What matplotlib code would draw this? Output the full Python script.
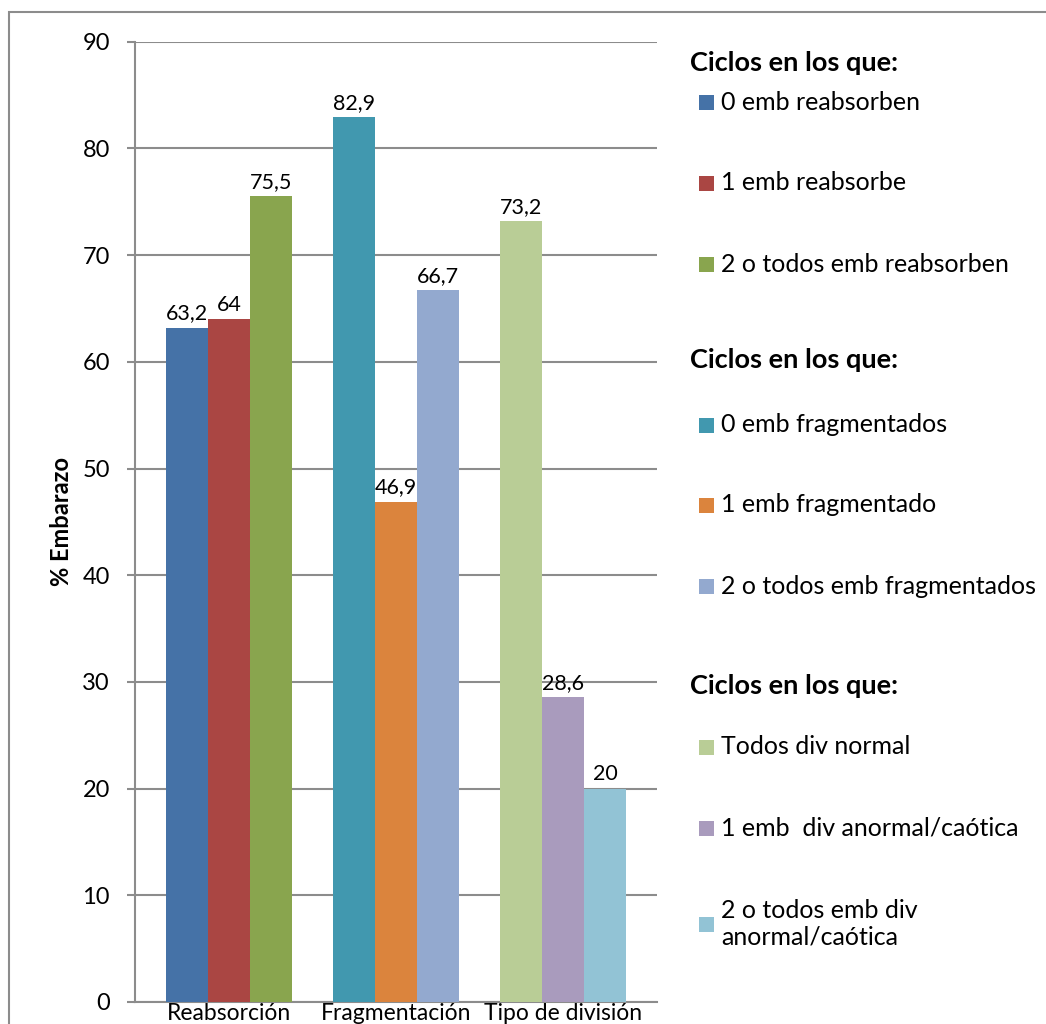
import matplotlib
matplotlib.use("Agg")
import matplotlib.pyplot as plt
from matplotlib.patches import Rectangle

plt.rcParams['font.family'] = ['Lato', 'DejaVu Sans']

# Categories on the x axis
categories = ["Reabsorción", "Fragmentación", "Tipo de división"]

# Three series per category (% embarazo)
reabsorcion_labels = ["0 emb reabsorben", "1 emb reabsorbe", "2 o todos emb reabsorben"]
reabsorcion_values = [63.2, 64, 75.5]

fragmentacion_labels = ["0 emb fragmentados", "1 emb fragmentado", "2 o todos emb fragmentados"]
fragmentacion_values = [82.9, 46.9, 66.7]

division_labels = ["Todos div normal", "1 emb  div anormal/caótica", "2 o todos emb div\nanormal/caótica"]
division_values = [73.2, 28.6, 20]

legend_title = "Ciclos en los que:"
y_ticks = [0, 10, 20, 30, 40, 50, 60, 70, 80, 90]

colors = [
    ["#4572A7", "#AA4643", "#89A54E"],
    ["#4198AF", "#DB843D", "#93A9CF"],
    ["#B9CD96", "#A99BBD", "#92C3D5"],
]

groups = [
    (reabsorcion_labels, reabsorcion_values),
    (fragmentacion_labels, fragmentacion_values),
    (division_labels, division_values),
]

W, H = 1046, 1024
fig = plt.figure(figsize=(W / 100, H / 100), dpi=100)
fig.patch.set_facecolor("white")

# outer chart frame
fig.add_artist(Rectangle((9 / W, -0.1), 1.2, (H - 11.7) / H + 0.1,
                         transform=fig.transFigure, fill=False,
                         edgecolor="#8c8c8c", linewidth=1.5))

ax_left, ax_right, ax_top, ax_bottom = 135, 657, 41.7, 1002
ax = fig.add_axes([ax_left / W, (H - ax_bottom) / H,
                   (ax_right - ax_left) / W, (ax_bottom - ax_top) / H])

grid_color = "#8c8c8c"
bar_w = 0.2515
for gi, (labels, values) in enumerate(groups):
    for si, (lab, val) in enumerate(zip(labels, values)):
        x = gi + (si - 1) * bar_w
        ax.bar(x, val, width=bar_w, color=colors[gi][si], zorder=3, linewidth=0)
        txt = ("%g" % val).replace(".", ",")
        ax.annotate(txt, (x, val), xytext=(0, 3), textcoords="offset points",
                    ha="center", va="bottom", fontsize=15.5, color="#000000")

ax.set_xlim(-0.563, 2.563)
ax.set_ylim(0, 90)
ax.set_yticks(y_ticks)
ax.set_yticklabels([str(t) for t in y_ticks], fontsize=17)
ax.set_xticks(range(len(categories)))
ax.set_xticklabels(categories, fontsize=16.5)
ax.tick_params(axis="x", length=0, pad=1)
ax.tick_params(axis="y", length=6, width=1.5, color=grid_color, pad=12)
ax.yaxis.grid(True, color=grid_color, linewidth=1.5, zorder=0)
for s in ["top", "right"]:
    ax.spines[s].set_visible(False)
for s in ["left", "bottom"]:
    ax.spines[s].set_color(grid_color)
    ax.spines[s].set_linewidth(1.5)
ax.set_ylabel("% Embarazo", fontsize=17, fontweight="bold", labelpad=7)

# legend blocks drawn in pixel coordinates
title_y = [63, 360, 686]
entry_y = [[102, 183, 264], [425, 505, 586], [747, 828, 924]]
for gi, (labels, values) in enumerate(groups):
    fig.text(690 / W, 1 - title_y[gi] / H, legend_title, fontsize=19.5,
             fontweight="bold", va="center", ha="left")
    for si, lab in enumerate(labels):
        yc = entry_y[gi][si]
        sq = 15
        fig.add_artist(Rectangle((699 / W, 1 - (yc + sq / 2) / H), sq / W, sq / H,
                                 transform=fig.transFigure, facecolor=colors[gi][si],
                                 edgecolor="none"))
        fig.text(721 / W, 1 - yc / H, lab, fontsize=18, va="center", ha="left",
                 linespacing=1.2)

fig.savefig("out.png", dpi=100, facecolor="white")
